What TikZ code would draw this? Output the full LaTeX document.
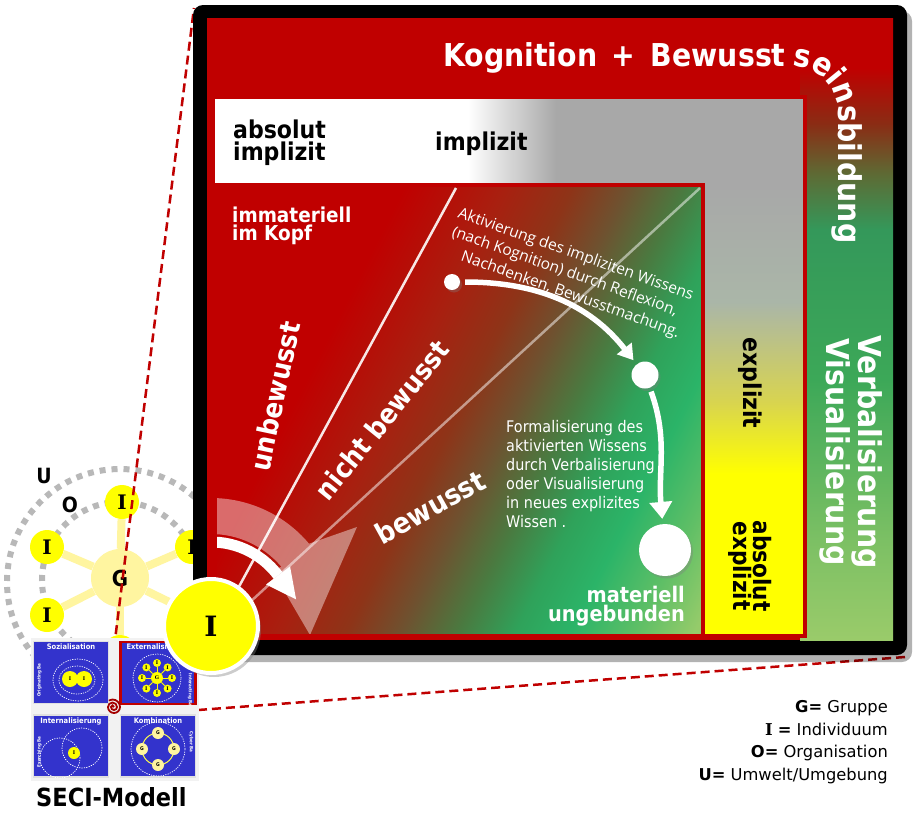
\documentclass[tikz,border=0pt]{standalone}
\usepackage{fontspec}
\setmainfont{DejaVu Sans}
\newfontfamily\cf{DejaVu Sans}[FakeStretch=0.9]
\newfontfamily\osans{Open Sans}
\newfontfamily\dserif{DejaVu Serif}
\usetikzlibrary{arrows.meta,decorations.text,calc,shadows}
\newcommand\myfs[2]{\fontsize{#1}{#2}\selectfont}
\definecolor{kred}{HTML}{C00000}
\definecolor{kgray}{HTML}{A8A8A8}
\definecolor{kyel}{HTML}{FFFF00}
\definecolor{lgr}{HTML}{9ACB6A}
\definecolor{kblue}{HTML}{3333CC}
\definecolor{pale}{HTML}{FFF5A0}
\definecolor{ringg}{HTML}{B8B8B8}
\definecolor{rs1}{HTML}{7CC064}
\definecolor{rs2}{HTML}{3CA858}
\definecolor{rs3}{HTML}{34985A}
\definecolor{rs4}{HTML}{5E6A34}
\definecolor{rs5}{HTML}{8A2C14}
\definecolor{yc1}{HTML}{D8D450}
\definecolor{yc2}{HTML}{AAB6A8}
\definecolor{g1}{HTML}{A82010}
\definecolor{g2}{HTML}{8E3418}
\definecolor{g3}{HTML}{6E5230}
\definecolor{g4}{HTML}{4A7A40}
\definecolor{g5}{HTML}{2FA25A}
\definecolor{g6}{HTML}{2BB468}
\definecolor{g7}{HTML}{60BF66}
\definecolor{g8}{HTML}{95CB6A}
\pgfdeclarehorizontalshading{grayh}{100bp}{color(0bp)=(white); color(46.5bp)=(white); color(54bp)=(kgray); color(100bp)=(kgray)}
\pgfdeclareverticalshading{ycol}{100bp}{color(0bp)=(kyel); color(43bp)=(kyel); color(51bp)=(yc1); color(62bp)=(yc2); color(75bp)=(kgray); color(100bp)=(kgray)}
\pgfdeclareverticalshading{rstrip}{100bp}{color(0bp)=(lgr); color(25bp)=(lgr); color(33bp)=(rs1); color(46bp)=(rs2); color(58bp)=(rs3); color(62.5bp)=(rs4); color(66.5bp)=(rs5); color(71bp)=(kred); color(100bp)=(kred)}
\pgfdeclarehorizontalshading{rg}{100bp}{color(0bp)=(kred); color(40.6bp)=(kred); color(46.25bp)=(g1); color(50bp)=(g2); color(53.1bp)=(g3); color(56.25bp)=(g4); color(59.4bp)=(g5); color(62.5bp)=(g6); color(66.25bp)=(g7); color(69.4bp)=(g8); color(100bp)=(g8)}
\begin{document}
\begin{tikzpicture}[x=1pt,y=1pt,
  wtxt/.style={text=white, inner sep=0pt},
  btxt/.style={text=black, inner sep=0pt},
  ringst/.style={ringg, line width=6pt, dash pattern=on 6pt off 6pt},
  inode/.style={circle, fill=kyel, minimum size=34pt, inner sep=0pt, font=\dserif\bfseries\myfs{20}{20}},
  gnode/.style={circle, fill=pale, minimum size=58pt, inner sep=0pt, font=\cf\bfseries\myfs{22}{22}},
  spoke/.style={pale, line width=8pt},
  rdash/.style={kred, line width=2.5pt, dash pattern=on 9pt off 5pt},
  panel/.style={rectangle, fill=kblue, draw=black!12, line width=1.5pt, inner sep=0pt, minimum width=75pt, minimum height=62pt},
  ptitle/.style={text=white, font=\cf\bfseries\myfs{7.5}{8}, inner sep=0pt},
  pside/.style={text=white, font=\cf\bfseries\myfs{4.5}{5}, inner sep=0pt},
  pdot/.style={white, line width=0.7pt, dash pattern=on 1.2pt off 1.2pt},
  syel/.style={circle, fill=kyel, inner sep=0pt, font=\dserif\bfseries\myfs{5}{5}},
  spale/.style={circle, fill=pale, inner sep=0pt, font=\cf\bfseries\myfs{5}{5}},
  wdot/.style={circle, fill=white, inner sep=0pt, drop shadow={opacity=.35, shadow xshift=2pt, shadow yshift=-2.5pt}},
  warr/.style={white, line width=5.5pt, -{Triangle[width=18pt,length=15pt]}},
  aktiv/.style={wtxt, anchor=base west, rotate=-19.5, font=\osans\myfs{15.5}{16}},
  legend/.style={btxt, anchor=base east, font=\myfs{16.3}{16}}
  ]
\useasboundingbox (0,0) rectangle (913,-820);
\fill[white] (0,0) rectangle (913,-820);

% ---- group diagram (U / O / G / I)
\draw[ringst] (120,-582) circle[radius=113];
\draw[ringst] (120,-580) circle[radius=78];
\node[gnode] (G) at (120,-578) {G};
\node[inode] (i1) at (122,-502) {I};
\node[inode] (i2) at (47,-547) {I};
\node[inode] (i3) at (47,-615) {I};
\node[inode] (i4) at (192,-547) {I};
\node[inode] (i5) at (190,-612) {I};
\node[inode] (i6) at (120,-652) {I};
\foreach \nn in {i1,i2,i3,i4,i5,i6} \draw[spoke] (G) -- (\nn);
\node[btxt, font=\cf\bfseries\myfs{21}{21}] (lU) at (44,-476) {U};
\node[btxt, font=\cf\bfseries\myfs{21}{21}] (lO) at (70,-505) {O};

% ---- red dashed zoom lines
\coordinate (dA) at (114,-648);
\coordinate (dB) at (194,-8);
\coordinate (dC) at (198,-710);
\coordinate (dD) at (905,-657);
\draw[rdash] (dA) -- (dB);
\draw[rdash] (dC) -- (dD);

% ---- SECI panels
\fill[black!5] (31,-638) rectangle (199,-781);
\node[panel] (soz) at (71,-672.5) {};
\node[panel, draw=kred, line width=2.5pt] (ext) at (158,-673) {};
\node[panel] (int) at (71,-746) {};
\node[panel] (kom) at (158,-746) {};
\node[ptitle, anchor=north] (tsoz) at ([yshift=-3pt]soz.north) {Sozialisation};
\node[ptitle, anchor=north] (text) at ([yshift=-3pt]ext.north) {Externalisierung};
\node[ptitle, anchor=north] (tint) at ([yshift=-3pt]int.north) {Internalisierung};
\node[ptitle, anchor=north] (tkom) at ([yshift=-3pt]kom.north) {Kombination};
% Sozialisation
\draw[pdot] (78,-680) ellipse[x radius=25, y radius=21];
\draw[pdot] (77,-680) ellipse[x radius=18, y radius=14];
\node[syel, minimum size=16pt] (sz1) at (70,-679) {I};
\node[syel, minimum size=16pt] (sz2) at (84,-679) {I};
\node[pside, rotate=90] (osz) at (39.5,-680) {Originating Ba};
% Externalisierung
\draw[pdot] (157,-678) circle[radius=24];
\node[syel, minimum size=12pt] (exG) at (157,-678) {G};
\foreach \a in {0,45,...,315} {
  \node[syel, minimum size=8pt] (ex\a) at ($(157,-678)+(\a:15)$) {I};
  \draw[kyel, line width=.8pt] (exG) -- (ex\a);
}
\node[pside, rotate=-90] (iab) at (190,-690) {Interacting Ba};
% Internalisierung
\draw[pdot] (60,-758) circle[radius=20];
\draw[pdot] (82,-748) circle[radius=20];
\node[syel, minimum size=12pt] (inI) at (74,-753) {I};
\node[pside, rotate=90] (eab) at (39.5,-752) {Exercising Ba};
% Kombination
\draw[pdot] (158,-749) circle[radius=27];
\draw[kyel!70!white, line width=1pt] (158,-749) circle[radius=16];
\node[spale, minimum size=12pt] (kg1) at (158,-733) {G};
\node[spale, minimum size=12pt] (kg2) at (142,-749) {G};
\node[spale, minimum size=12pt] (kg3) at (174,-749) {G};
\node[spale, minimum size=12pt] (kg4) at (158,-765) {G};
\node[pside, rotate=-90] (cab) at (191,-742) {Cyber Ba};
% spiral
\draw[kred!85!black, line width=1.8pt] (114,-707) arc[start angle=0,end angle=180,radius=1.5] arc[start angle=180,end angle=360,radius=3] arc[start angle=0,end angle=180,radius=4.5] arc[start angle=180,end angle=360,radius=6] arc[start angle=0,end angle=120,radius=7.5];
\node[btxt, anchor=base west, font=\cf\bfseries\myfs{25}{25}] (seci) at (36,-806) {SECI-Modell};

% ---- main frame
\fill[black, opacity=.3, rounded corners=10pt] (198,-11) rectangle (912,-662);
\fill[black, rounded corners=10pt] (193,-5) rectangle (907,-655);
\fill[kred] (207,-18) rectangle (893,-640);
\shade[shading=rstrip] (800,-18) rectangle (893,-640);
\shade[shading=grayh] (213,-97) rectangle (805,-636);
\shade[shading=ycol] (703,-185) rectangle (803,-636);
\draw[kred, line width=4pt] (213,-97) rectangle (805,-636);

% ---- inner box
\coordinate (C) at (211,-626);
\coordinate (O) at (211,-638);
\coordinate (L1) at (456,-188);
\coordinate (L2) at (700,-188);
\begin{scope}
  \clip (215,-185) rectangle (703,-636);
  \begin{scope}[transform canvas={shift={(459,-410)}, rotate=-27}]
    \shade[shading=rg] (-400,-400) rectangle (400,400);
  \end{scope}
  \fill[white, opacity=.42] ($(C)+(95:128)$) arc[start angle=95, end angle=40, radius=128] -- (357,-527) -- (310,-635) -- (272,-570) -- ($(C)+(40:92)$) arc[start angle=40, end angle=95, radius=92] -- cycle;
  \draw[white, line width=2.5pt, opacity=.9] (O) -- (L1);
  \draw[white, line width=2.5pt, opacity=.5] (O) -- (L2);
  \draw[white, line width=11pt] ($(C)+(95:84)$) arc[start angle=95, end angle=37, radius=84];
  \fill[white] (290.06,-566.42) -- (296.1,-599.4) -- (266.1,-584.48) -- cycle;
\end{scope}
\draw[kred, line width=4pt] (215,-185) rectangle (703,-636);

% ---- dots and arrows
\node[wdot, minimum size=16pt] (d1) at (452,-282) {};
\node[wdot, minimum size=27pt] (d2) at (645,-375) {};
\node[wdot, minimum size=52pt] (d3) at (665,-550) {};
\draw[warr, shorten <=5pt, shorten >=5pt] (d1) to[out=0, in=128] (d2);
\draw[warr, -{Triangle[width=22pt,length=17pt]}, shorten <=4pt, shorten >=5pt] (d2) to[out=-70, in=95] (d3);

% ---- texts
\node[wtxt, anchor=base west, font=\cf\bfseries\myfs{31.5}{32}] (title) at (443,-66) {Kognition\hspace{0.45em}+\hspace{0.5em}Bewusst};
\path[decorate, decoration={text along path, text color=white, text={|\cf\bfseries\myfs{31.5}{32}|seinsbildung}}] (792,-66) arc[start angle=90, end angle=0, radius=46] -- (838,-262);
\node[wtxt, rotate=-90, align=center, font=\cf\bfseries\myfs{31.5}{27.5}] (verb) at (851,-452) {Verbalisierung\\Visualisierung};
\node[btxt, anchor=base west, font=\cf\bfseries\myfs{24.5}{25}] (abs1) at (233,-138) {absolut};
\node[btxt, anchor=base west, font=\cf\bfseries\myfs{24.5}{25}] (imp1) at (233,-160) {implizit};
\node[btxt, anchor=base west, font=\cf\bfseries\myfs{24.5}{25}] (imp2) at (435,-150) {implizit};
\node[btxt, rotate=-90, font=\cf\bfseries\myfs{24.5}{25}] (exp1) at (750,-383) {explizit};
\node[btxt, rotate=-90, align=center, font=\cf\bfseries\myfs{24}{20}] (exp2) at (750,-566) {absolut\\explizit};
\node[wtxt, anchor=base west, font=\cf\bfseries\myfs{20.5}{21}] (imm1) at (232,-222) {immateriell};
\node[wtxt, anchor=base west, font=\cf\bfseries\myfs{20.5}{21}] (imm2) at (232,-240) {im Kopf};
\node[wtxt, anchor=base east, font=\cf\bfseries\myfs{21.5}{22}] (mat1) at (685,-602) {materiell};
\node[wtxt, anchor=base east, font=\cf\bfseries\myfs{21.5}{22}] (mat2) at (685,-621) {ungebunden};
\node[wtxt, rotate=78, font=\cf\bfseries\myfs{27.5}{28}] (unb) at (275,-396) {unbewusst};
\node[wtxt, rotate=51, font=\cf\bfseries\myfs{27.5}{28}] (nbw) at (382,-420) {nicht bewusst};
\node[wtxt, rotate=29, font=\cf\bfseries\myfs{28.5}{29}] (bw) at (430,-507) {bewusst};
\node[aktiv] (ak1) at (457,-217) {Aktivierung des impliziten Wissens};
\node[aktiv] (ak2) at (451,-236) {(nach Kognition) durch Reflexion,};
\node[aktiv] (ak3) at (460,-260.5) {Nachdenken, Bewusstmachung.};
\node[wtxt, anchor=west, align=left, font=\cf\myfs{16}{19}] (form) at (506,-474) {Formalisierung des\\aktivierten Wissens\\durch Verbalisierung\\oder Visualisierung\\in neues explizites\\Wissen .};

% ---- big I
\node[circle, fill=kyel, draw=white, line width=4pt, minimum size=94pt, inner sep=0pt, font=\dserif\bfseries\myfs{28}{28}, drop shadow={opacity=.4, shadow xshift=3pt, shadow yshift=-4pt}] (bigI) at (211,-626) {I};

% ---- legend
\node[legend] (lg1) at (888,-712) {\textbf{G=} Gruppe};
\node[legend] (lg2) at (888,-735) {{\dserif\bfseries I} \textbf{=} Individuum};
\node[legend] (lg3) at (888,-757) {\textbf{O=} Organisation};
\node[legend] (lg4) at (888,-780) {\textbf{U=} Umwelt/Umgebung};
\end{tikzpicture}
\end{document}
